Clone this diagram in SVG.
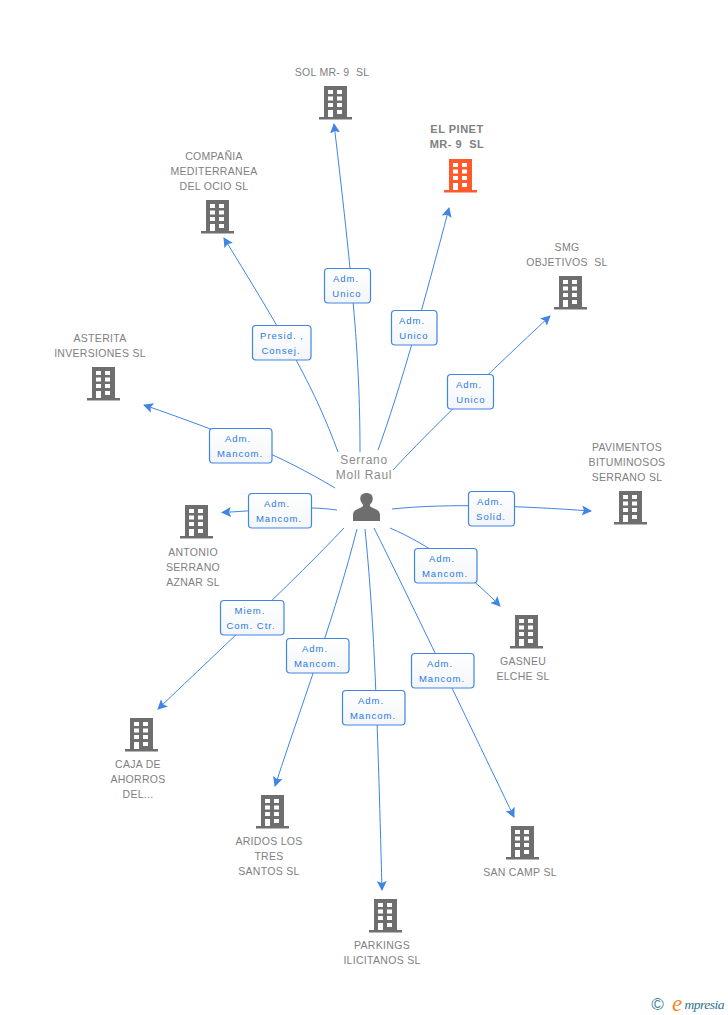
<svg xmlns="http://www.w3.org/2000/svg" xmlns:xlink="http://www.w3.org/1999/xlink" width="728" height="1015" viewBox="0 0 728 1015">
<style>
text{font-family:"Liberation Sans",Arial,sans-serif;text-anchor:middle;white-space:pre}
.n{font-size:10.5px;fill:#808080;letter-spacing:.3px}
.b{font-size:11px;font-weight:bold;fill:#808080;letter-spacing:.5px}
.p{font-size:12px;fill:#8c8c8c;letter-spacing:.7px}
.l{font-size:9.5px;fill:#2a7ae2;letter-spacing:1px}
.c{fill:none;stroke:#3f85e5;stroke-width:1}
.box{fill:url(#g);stroke:#3f85e5;stroke-width:1.2}
</style>
<defs>
<linearGradient id="g" x1="0" y1="0" x2="0" y2="1"><stop offset="0" stop-color="#fff"/><stop offset="1" stop-color="#f3f5f8"/></linearGradient>
<marker id="a" viewBox="0 0 10 10" refX="9" refY="5" markerWidth="10" markerHeight="10" markerUnits="userSpaceOnUse" orient="auto"><path d="M0 0L10 5L0 10L2 5Z" fill="#3f85e5"/></marker>
<symbol id="bld" width="33" height="34" viewBox="0 0 33 34" overflow="visible">
<path d="M5 0H28V31H33V33.500H0V31H5Z"/>
<path fill="#fff" d="M9 4h5v4H9zM18 4h5v4h-5zM9 10.500h5v4H9zM18 10.500h5v4h-5zM9 17h5v4H9zM18 17h5v4h-5zM9 24h5v7H9zM18 24h5v4h-5z"/>
</symbol>
</defs>
<g id="connectors">
<path class="c" marker-end="url(#a)" d="M360 452C360 370 355 300 334 124"/>
<path class="c" marker-end="url(#a)" d="M378 450C400 390 425 300 449 208"/>
<path class="c" marker-end="url(#a)" d="M338 452C315 390 290 345 224 238"/>
<path class="c" marker-end="url(#a)" d="M393 470C430 430 490 372 550 316"/>
<path class="c" marker-end="url(#a)" d="M335 488C280 455 230 435 144 405"/>
<path class="c" marker-end="url(#a)" d="M337 510C300 505 270 510 222 512.500"/>
<path class="c" marker-end="url(#a)" d="M392 509C450 503 520 506 591 511"/>
<path class="c" marker-end="url(#a)" d="M390 528C430 545 470 575 500 606"/>
<path class="c" marker-end="url(#a)" d="M344 528C290 585 230 640 158 709"/>
<path class="c" marker-end="url(#a)" d="M357 529C335 615 310 680 275 786"/>
<path class="c" marker-end="url(#a)" d="M365 529C374 620 377 700 382 890"/>
<path class="c" marker-end="url(#a)" d="M374 528C405 590 465 715 514 817"/>
</g>
<g id="edge-labels">
<g><rect class="box" x="324.500" y="268.500" width="46" height="34.500" rx="3.500"/><text class="l" x="346" y="282">Adm.</text><text class="l" x="347" y="297">Unico</text></g>
<g><rect class="box" x="391.500" y="310.500" width="45.500" height="34.500" rx="3.500"/><text class="l" x="412" y="324">Adm.</text><text class="l" x="414" y="339">Unico</text></g>
<g><rect class="box" x="252.500" y="325.500" width="58.500" height="34.500" rx="3.500"/><text class="l" x="282" y="339">Presid. ,</text><text class="l" x="281" y="354">Consej.</text></g>
<g><rect class="box" x="447.500" y="374.500" width="46" height="34.500" rx="3.500"/><text class="l" x="469" y="388">Adm.</text><text class="l" x="471" y="403">Unico</text></g>
<g><rect class="box" x="209.500" y="428.500" width="62.500" height="34.500" rx="3.500"/><text class="l" x="238" y="442">Adm.</text><text class="l" x="240" y="457">Mancom.</text></g>
<g><rect class="box" x="248.500" y="493.500" width="63" height="34.500" rx="3.500"/><text class="l" x="277" y="507">Adm.</text><text class="l" x="279" y="522">Mancom.</text></g>
<g><rect class="box" x="468.500" y="491.500" width="46" height="34.500" rx="3.500"/><text class="l" x="490" y="505">Adm.</text><text class="l" x="491" y="520">Solid.</text></g>
<g><rect class="box" x="414.500" y="548.500" width="62.500" height="34.500" rx="3.500"/><text class="l" x="442" y="562">Adm.</text><text class="l" x="445" y="577">Mancom.</text></g>
<g><rect class="box" x="220.500" y="600.500" width="63.500" height="34.500" rx="3.500"/><text class="l" x="250" y="614">Miem.</text><text class="l" x="251" y="629">Com. Ctr.</text></g>
<g><rect class="box" x="286.500" y="638.500" width="62.500" height="34.500" rx="3.500"/><text class="l" x="315" y="652">Adm.</text><text class="l" x="317" y="667">Mancom.</text></g>
<g><rect class="box" x="342.500" y="690.500" width="62.500" height="34.500" rx="3.500"/><text class="l" x="371" y="704">Adm.</text><text class="l" x="373" y="719">Mancom.</text></g>
<g><rect class="box" x="411.500" y="653.500" width="62.500" height="34.500" rx="3.500"/><text class="l" x="440" y="667">Adm.</text><text class="l" x="442" y="682">Mancom.</text></g>
</g>
<g id="person"><text class="p" x="364" y="464">Serrano</text><text class="p" x="364" y="479">Moll Raul</text>
<path fill="#6e6e6e" d="M353 521V515C353 510 358 509 362 507C363.500 506 363.500 505 362.500 504C360 501 360 498 360.500 497C361 494 364 493 366.500 493C369 493 372 494 372.500 497C373 499 373 501 370.500 504C369.500 505 369.500 506 371 507C375 509 380 510 380 515V521Z"/></g>
<g id="sol" fill="#6e6e6e"><use xlink:href="#bld" href="#bld" x="319" y="86"/><text class="n" x="332" y="76">SOL MR- 9  SL</text></g>
<g id="pinet" fill="#ff5a2b"><use xlink:href="#bld" href="#bld" x="444" y="159"/><text class="b" x="457" y="133">EL PINET</text><text class="b" x="457" y="148">MR- 9  SL</text></g>
<g id="compania" fill="#6e6e6e"><use xlink:href="#bld" href="#bld" x="201" y="200"/><text class="n" x="214" y="160">COMPAÑIA</text><text class="n" x="214" y="175">MEDITERRANEA</text><text class="n" x="214" y="190">DEL OCIO SL</text></g>
<g id="smg" fill="#6e6e6e"><use xlink:href="#bld" href="#bld" x="554" y="276"/><text class="n" x="567" y="251">SMG</text><text class="n" x="567" y="266">OBJETIVOS  SL</text></g>
<g id="asterita" fill="#6e6e6e"><use xlink:href="#bld" href="#bld" x="87" y="367"/><text class="n" x="100" y="342">ASTERITA</text><text class="n" x="100" y="357">INVERSIONES SL</text></g>
<g id="pavimentos" fill="#6e6e6e"><use xlink:href="#bld" href="#bld" x="614" y="491"/><text class="n" x="627" y="451">PAVIMENTOS</text><text class="n" x="627" y="466">BITUMINOSOS</text><text class="n" x="627" y="481">SERRANO SL</text></g>
<g id="antonio" fill="#6e6e6e"><use xlink:href="#bld" href="#bld" x="180" y="505"/><text class="n" x="193" y="556">ANTONIO</text><text class="n" x="193" y="571">SERRANO</text><text class="n" x="193" y="586">AZNAR SL</text></g>
<g id="gasneu" fill="#6e6e6e"><use xlink:href="#bld" href="#bld" x="510" y="615"/><text class="n" x="523" y="665">GASNEU</text><text class="n" x="523" y="680">ELCHE SL</text></g>
<g id="caja" fill="#6e6e6e"><use xlink:href="#bld" href="#bld" x="125" y="718"/><text class="n" x="138" y="768">CAJA DE</text><text class="n" x="138" y="783">AHORROS</text><text class="n" x="138" y="798">DEL...</text></g>
<g id="aridos" fill="#6e6e6e"><use xlink:href="#bld" href="#bld" x="256" y="795"/><text class="n" x="269" y="845">ARIDOS LOS</text><text class="n" x="269" y="860">TRES</text><text class="n" x="269" y="875">SANTOS SL</text></g>
<g id="sancamp" fill="#6e6e6e"><use xlink:href="#bld" href="#bld" x="506" y="826"/><text class="n" x="520" y="876">SAN CAMP SL</text></g>
<g id="parkings" fill="#6e6e6e"><use xlink:href="#bld" href="#bld" x="369" y="899"/><text class="n" x="382" y="949">PARKINGS</text><text class="n" x="382" y="964">ILICITANOS SL</text></g>
<g id="logo"><text x="657.500" y="1010" style="font-size:17px;fill:#3d7f96">©</text><text x="677" y="1011" style="font-family:'Liberation Serif',serif;font-size:23px;font-style:italic;fill:#f08a1d">e</text><text x="684.500" y="1009" textLength="40" style="text-anchor:start;font-family:'Liberation Serif',serif;font-size:13.500px;font-style:italic;fill:#2d6f8c">mpresia</text></g>
</svg>
